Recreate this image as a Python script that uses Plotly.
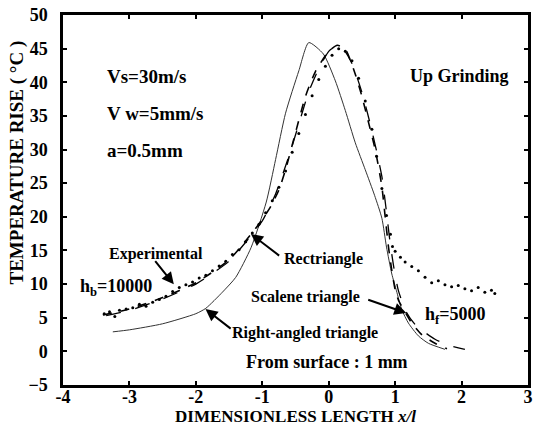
import plotly.graph_objects as go

# ---- data ----
rect_x = [-3.4, -3.0, -2.5, -2.0, -1.5, -1.17, -1.0, -0.87, -0.75, -0.65, -0.5, -0.35, -0.2, 0.0, 0.13, 0.25, 0.4, 0.5, 0.6, 0.7, 0.8, 0.85, 0.9, 0.95, 1.0, 1.05, 1.14, 1.25, 1.4, 1.6, 1.78]
rect_y = [5.4, 6.3, 8.0, 10.2, 13.6, 17.4, 19.6, 21.6, 24.0, 27.0, 32.5, 37.9, 41.6, 44.6, 45.5, 44.9, 41.2, 37.9, 34.0, 30.0, 24.5, 20.0, 15.5, 12.0, 9.2, 7.6, 6.0, 4.2, 2.5, 1.2, 0.4]

scal_x = [-3.35, -3.0, -2.5, -2.0, -1.5, -1.17, -1.0, -0.8, -0.6, -0.45, -0.3, -0.15, 0.0, 0.1, 0.2, 0.35, 0.5, 0.62, 0.72, 0.8, 0.86, 0.92, 0.98, 1.05, 1.17, 1.3, 1.45, 1.6, 1.8, 2.05]
scal_y = [5.3, 6.1, 7.8, 10.0, 13.4, 17.2, 19.4, 23.4, 29.0, 33.8, 38.6, 42.0, 44.6, 45.3, 45.2, 42.8, 38.5, 34.0, 29.8, 26.0, 21.5, 16.5, 12.5, 9.0, 5.8, 4.0, 2.8, 1.8, 0.9, 0.3]

right_x = [-3.25, -3.0, -2.5, -2.0, -1.85, -1.6, -1.4, -1.17, -0.94, -0.8, -0.65, -0.45, -0.3, -0.08, 0.1, 0.25, 0.4, 0.55, 0.69, 0.8, 0.87, 0.95, 1.02, 1.1, 1.2, 1.35, 1.5, 1.75]
right_y = [2.9, 3.2, 4.1, 5.6, 6.4, 8.8, 11.0, 15.4, 22.2, 28.5, 35.4, 41.7, 45.9, 44.2, 40.2, 35.8, 31.0, 27.0, 23.2, 19.8, 15.5, 11.5, 9.0, 6.2, 4.2, 2.3, 1.2, 0.3]

exp_x = [-3.38, -3.3, -3.22, -3.15, -3.05, -2.95, -2.85, -2.75, -2.65, -2.55, -2.45, -2.35, -2.25, -2.15, -2.05, -1.95, -1.85, -1.75,
         -1.65, -1.55, -1.45, -1.35, -1.25, -1.15, -1.05, -0.95, -0.85, -0.75, -0.65, -0.55, -0.45, -0.35, -0.25, -0.15, -0.05,
         0.05, 0.15, 0.25, 0.35, 0.45, 0.55, 0.65, 0.72, 0.8, 0.87, 0.93, 0.96, 1.0, 1.08, 1.15, 1.25, 1.35, 1.45, 1.55, 1.65,
         1.75, 1.85, 1.95, 2.05, 2.15, 2.25, 2.35, 2.45, 2.5]
exp_y = [5.6, 5.9, 5.2, 6.1, 6.3, 6.5, 7.0, 6.7, 7.3, 7.7, 8.2, 8.9, 9.5, 9.9, 10.3, 10.9, 11.3, 12.0,
         12.7, 13.4, 14.4, 15.1, 16.3, 17.6, 18.9, 20.6, 22.4, 24.4, 26.8, 29.6, 32.4, 35.2, 38.0, 40.4, 42.4,
         44.0, 45.0, 44.6, 43.2, 40.6, 37.2, 33.0, 29.0, 24.2, 20.2, 17.4, 15.6, 14.9, 14.0, 13.3, 12.6, 12.0, 11.0, 10.2, 10.5,
         9.9, 9.6, 9.8, 9.3, 9.0, 9.5, 8.8, 9.1, 8.6]

x_ticks = [-4, -3, -2, -1, 0, 1, 2, 3]
x_ticktext = ["-4", "-3", "-2", "-1", "0", "1", "2", "3"]
y_ticks = [-5, 0, 5, 10, 15, 20, 25, 30, 35, 40, 45, 50]

FONT = "Liberation Serif"

fig = go.Figure()
fig.add_trace(go.Scatter(x=right_x, y=right_y, mode="lines", name="Right-angled triangle",
                         line=dict(color="#333333", width=1, shape="spline", smoothing=0.6)))
fig.add_trace(go.Scatter(x=scal_x, y=scal_y, mode="lines", name="Scalene triangle",
                         line=dict(color="black", width=1.3, dash="longdash", shape="spline", smoothing=0.6)))
fig.add_trace(go.Scatter(x=rect_x, y=rect_y, mode="lines", name="Rectriangle",
                         line=dict(color="black", width=1.6, dash="dash", shape="spline", smoothing=0.6)))
fig.add_trace(go.Scatter(x=exp_x, y=exp_y, mode="markers", name="Experimental",
                         marker=dict(color="black", size=3)))

PL, PR, PT, PB = 63, 533, 10, 385

def px2x(px):
    return (px - PL) / (PR - PL) * 7 - 4

def py2y(py):
    return (PB - py) / (PB - PT) * 55 - 5

def txt(px, py, s, anchor="left", size=16):
    fig.add_annotation(x=px2x(px), y=py2y(py), xref="x", yref="y", text=s, showarrow=False,
                       xanchor=anchor, yanchor="middle",
                       font=dict(family=FONT, size=size, color="black"))

txt(105, 72, "<b>Vs=30m/s</b>", size=19)
txt(105, 110, "<b>V w=5mm/s</b>", size=19)
txt(105, 147, "<b>a=0.5mm</b>", size=19)
txt(516, 72, "<b>Up Grinding</b>", anchor="right", size=18)
txt(157, 252, "<b>Experimental</b>", anchor="center", size=16)
txt(78, 286, "<b>h<sub>b</sub>=10000</b>", size=18)
txt(284, 257, "<b>Rectriangle</b>", size=16)
txt(365, 296, "<b>Scalene triangle</b>", anchor="right", size=16)
txt(427, 315, "<b>h<sub>f</sub>=5000</b>", size=18)
txt(232, 332, "<b>Right-angled triangle</b>", size=16)
txt(246, 362, "<b>From surface : 1 mm</b>", size=18)

def arrow(hx, hy, tx, ty):
    fig.add_annotation(x=px2x(hx), y=py2y(hy), ax=px2x(tx), ay=py2y(ty), xref="x", yref="y",
                       axref="x", ayref="y", text="", showarrow=True, arrowhead=2,
                       arrowsize=1.2, arrowwidth=2, arrowcolor="black")

arrow(175, 283, 155, 258)
arrow(253, 232, 283, 255)
arrow(410, 312, 370, 298)
arrow(207, 308, 234, 329)

# axis titles placed as annotations
fig.add_annotation(x=(16 - PL) / (PR - PL), y=(PB - 160) / (PB - PT), xref="paper", yref="paper",
                   text="<b>TEMPERATURE RISE ( °C )</b>", textangle=-90, showarrow=False,
                   xanchor="center", yanchor="middle",
                   font=dict(family=FONT, size=19, color="black"))
fig.add_annotation(x=(298 - PL) / (PR - PL), y=(PB - 417) / (PB - PT), xref="paper", yref="paper",
                   text="<b>DIMENSIONLESS LENGTH <i>x/l</i></b>", showarrow=False,
                   xanchor="center", yanchor="middle",
                   font=dict(family=FONT, size=17, color="black"))

fig.update_layout(
    width=538, height=430,
    margin=dict(l=PL, r=538 - PR, t=PT, b=430 - PB),
    paper_bgcolor="white", plot_bgcolor="white",
    showlegend=False,
    font=dict(family=FONT, color="black"),
    xaxis=dict(range=[-4, 3], tickvals=x_ticks, ticktext=x_ticktext, ticks="inside", ticklen=4,
               tickwidth=1.5, tickcolor="black", showline=True, linecolor="black", linewidth=2.5,
               mirror="ticks", showgrid=False, zeroline=False, ticklabelstandoff=-6,
               ticklabeloverflow="allow",
               tickfont=dict(family=FONT, size=18, color="black", weight="bold")),
    yaxis=dict(range=[-5, 50], tickvals=y_ticks, ticks="inside", ticklen=4,
               tickwidth=1.5, tickcolor="black", showline=True, linecolor="black", linewidth=2.5,
               mirror="ticks", showgrid=False, zeroline=False, ticklabelstandoff=9,
               tickfont=dict(family=FONT, size=18, color="black", weight="bold")),
)

fig.write_html("out.html", config={"displayModeBar": False},
               post_script="document.body.style.margin='0px';")
